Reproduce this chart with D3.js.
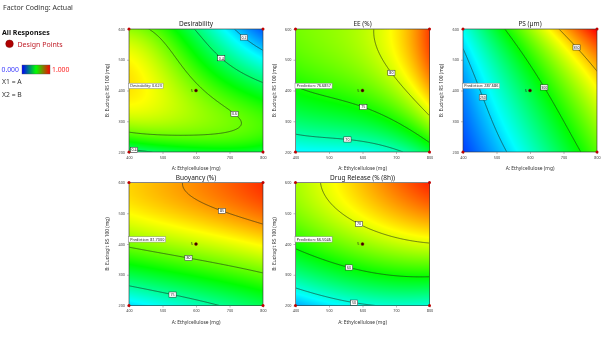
<!DOCTYPE html>
<meta charset="utf-8">
<style>
body { margin: 0; background: #fff; }
#wrap { position: relative; width: 603px; height: 347px; font-family: "Noto Sans", "Open Sans", sans-serif; }
#wrap canvas, #wrap svg { position: absolute; left: 0; top: 0; }
</style>
<body>
<div id="wrap"></div>
<script src="https://d3js.org/d3.v7.min.js"></script>
<script>

// factor settings, actual units
var levelsA = [400, 500, 600, 700, 800];   // A: Ethylcellulose (mg)
var levelsB = [200, 300, 400, 500, 600];   // B: Eudragit RS 100 (mg)

// responses at each A x B setting, one row per B level (200 -> 600)
var desirability = [
  [0.36, 0.42, 0.44, 0.45, 0.44],
  [0.66, 0.67, 0.67, 0.64, 0.55],
  [0.80, 0.72, 0.60, 0.52, 0.45],
  [0.74, 0.66, 0.53, 0.36, 0.27],
  [0.64, 0.55, 0.39, 0.23, 0.08]
];
var entrapment = [
  [67.5, 68.0, 68.2, 68.7, 73.2],
  [71.2, 71.8, 73.8, 75.3, 79.0],
  [74.9, 75.8, 76.5, 78.8, 83.5],
  [76.8, 77.5, 78.5, 81.5, 85.5],
  [77.5, 78.2, 79.3, 82.0, 86.5]
];
var particleSize = [
  [225, 244, 265, 287, 312],
  [231, 252, 276, 300, 325],
  [238, 261, 287, 315, 339],
  [246, 274, 304, 332, 355],
  [258, 295, 322, 352, 385]
];
var buoyancy = [
  [72.5, 73.3, 74.3, 74.7, 76.8],
  [76.0, 77.0, 78.4, 79.0, 79.6],
  [80.6, 81.3, 82.2, 82.7, 83.0],
  [82.8, 83.5, 84.2, 84.9, 85.6],
  [84.0, 84.5, 85.0, 86.3, 87.3]
];
var drugRelease = [
  [44.5, 47.5, 49.5, 50.8, 49.7],
  [53.5, 56.5, 58.8, 59.8, 61.0],
  [61.5, 64.0, 66.5, 68.5, 70.0],
  [65.5, 68.3, 72.5, 74.5, 76.5],
  [67.5, 71.0, 74.5, 78.0, 81.5]
];

var titles = ["Desirability", "EE  (%)", "PS  (\u00b5m)", "Buoyancy  (%)", "Drug Release (% (8h))"];
var modelOrders = [4, 3, 3, 3, 3];
var colorRanges = [[0, 1], [61, 88], [215, 382], [68, 88], [37, 83]];
var contourLevels = [[0.2, 0.4, 0.6], [70, 75, 80], [250, 300, 350], [75, 80, 85], [50, 60, 70]];
// where each contour carries its value tag, [A, B]
var tagSpots = [
  [[743, 573], [678, 508], [416, 217], [718, 328]],
  [[555, 249], [600, 339], [678, 450]],
  [[467, 381], [638, 407], [745, 545]],
  [[532, 241], [577, 350], [683, 526]],
  [[577, 217], [560, 322], [587, 459]]
];
var tagLevels = [[0.2, 0.4, 0.4, 0.6], [70, 75, 80], [250, 300, 350], [75, 80, 85], [50, 60, 70]];
var centerRuns = 5;

var W = 603, H = 347, pw = 134, ph = 123;
var lefts = [129, 295.5, 463, 129, 295.5];
var tops = [29, 29, 29, 182.5, 182.5];
var grids = [desirability, entrapment, particleSize, buoyancy, drugRelease];

var wrap = d3.select("#wrap");
var canvas = wrap.append("canvas").attr("width", W).attr("height", H).node();
var ctx = canvas.getContext("2d");
var svg = wrap.append("svg").attr("width", W).attr("height", H);

// coded factors, -1 .. 1
var codeA = d3.scaleLinear().domain(d3.extent(levelsA)).range([-1, 1]);
var codeB = d3.scaleLinear().domain(d3.extent(levelsB)).range([-1, 1]);

// polynomial terms up to the given total order
function terms(u, v, order) {
  var t = [];
  for (var d = 0; d <= order; d++)
    for (var a = d; a >= 0; a--) t.push(Math.pow(u, a) * Math.pow(v, d - a));
  return t;
}

// least-squares response surface through a grid of responses
function fitSurface(grid, order) {
  var n = (order + 1) * (order + 2) / 2;
  var M = d3.range(n).map(function() { return new Array(n + 1).fill(0); });
  grid.forEach(function(row, j) {
    row.forEach(function(val, i) {
      var t = terms(codeA(levelsA[i]), codeB(levelsB[j]), order);
      for (var a = 0; a < n; a++) {
        for (var b = 0; b < n; b++) M[a][b] += t[a] * t[b];
        M[a][n] += t[a] * val;
      }
    });
  });
  for (var c = 0; c < n; c++) {
    var piv = c;
    for (var r = c + 1; r < n; r++) if (Math.abs(M[r][c]) > Math.abs(M[piv][c])) piv = r;
    var tmp = M[c]; M[c] = M[piv]; M[piv] = tmp;
    for (var r2 = 0; r2 < n; r2++) {
      if (r2 === c) continue;
      var f = M[r2][c] / M[c][c];
      for (var k = c; k <= n; k++) M[r2][k] -= f * M[c][k];
    }
  }
  var coef = M.map(function(row, i) { return row[n] / row[i]; });
  return function(a, b) {
    var t = terms(codeA(a), codeB(b), order), s = 0;
    for (var i = 0; i < n; i++) s += coef[i] * t[i];
    return s;
  };
}
function ramp(t) {
  t = Math.max(0, Math.min(1, t));
  return d3.rgb(d3.hsl(240 * (1 - t), 1, 0.5));
}

// side legend
svg.append("text").attr("x", 3).attr("y", 10).attr("font-size", 7).attr("fill", "#333").text("Factor Coding: Actual");
svg.append("text").attr("x", 2).attr("y", 35).attr("font-size", 7).attr("font-weight", "bold").attr("fill", "#111").text("All Responses");
svg.append("circle").attr("cx", 9.5).attr("cy", 43.8).attr("r", 3.8).attr("fill", "#b00000").attr("stroke", "#700").attr("stroke-width", 0.5);
svg.append("text").attr("x", 17.5).attr("y", 46.5).attr("font-size", 7).attr("fill", "#c0202a").text("Design Points");
var grad = svg.append("defs").append("linearGradient").attr("id", "key");
grad.selectAll("stop").data(["#0000ff", "#00ff00", "#ff0000"]).join("stop")
  .attr("offset", function(d, i) { return i / 2; }).attr("stop-color", function(d) { return d; });
svg.append("rect").attr("x", 22).attr("y", 65).attr("width", 28).attr("height", 9)
  .attr("fill", "url(#key)").attr("stroke", "#555").attr("stroke-width", 0.4);
svg.append("text").attr("x", 1.5).attr("y", 72).attr("font-size", 6.8).attr("fill", "#3a3aff").text("0.000");
svg.append("text").attr("x", 52).attr("y", 72).attr("font-size", 6.8).attr("fill", "#ff2020").text("1.000");
svg.append("text").attr("x", 2).attr("y", 84).attr("font-size", 6.8).attr("fill", "#333").text("X1 = A");
svg.append("text").attr("x", 2).attr("y", 97).attr("font-size", 6.8).attr("fill", "#333").text("X2 = B");

grids.forEach(function(grid, p) {
  var surface = fitSurface(grid, modelOrders[p]);
  var x0 = lefts[p], y0 = tops[p];
  var x = d3.scaleLinear().domain(d3.extent(levelsA)).range([x0, x0 + pw]);
  var y = d3.scaleLinear().domain(d3.extent(levelsB)).range([y0 + ph, y0]);
  var color = d3.scaleLinear().domain(colorRanges[p]).range([0, 1]);

  // shaded surface
  var img = ctx.createImageData(pw, ph);
  for (var r = 0; r < ph; r++) {
    for (var c = 0; c < pw; c++) {
      var v = surface(x.invert(x0 + c + 0.5), y.invert(y0 + r + 0.5));
      var col = ramp(color(v)), k = (r * pw + c) * 4;
      img.data[k] = col.r; img.data[k + 1] = col.g; img.data[k + 2] = col.b; img.data[k + 3] = 255;
    }
  }
  ctx.putImageData(img, Math.round(x0), Math.round(y0));

  var g = svg.append("g");
  var clipId = "clip" + p;
  g.append("clipPath").attr("id", clipId).append("rect")
    .attr("x", x0 + 0.4).attr("y", y0 + 0.4).attr("width", pw - 0.8).attr("height", ph - 0.8);

  // contour lines on a fine grid
  var nx = 161, ny = 161, vals = new Array(nx * ny);
  var stepA = (x.domain()[1] - x.domain()[0]) / (nx - 1), stepB = (y.domain()[1] - y.domain()[0]) / (ny - 1);
  for (var j = 0; j < ny; j++)
    for (var i = 0; i < nx; i++)
      vals[j * nx + i] = surface(x.domain()[0] + i * stepA, y.domain()[1] - j * stepB);
  var toPx = function(gx, gy) {
    return [x(x.domain()[0] + (gx - 0.5) * stepA), y(y.domain()[1] - (gy - 0.5) * stepB)];
  };
  var proj = d3.geoTransform({ point: function(gx, gy) { var q = toPx(gx, gy); this.stream.point(q[0], q[1]); } });
  var shapes = d3.contours().size([nx, ny]).thresholds(contourLevels[p])(vals);
  g.append("g").attr("clip-path", "url(#" + clipId + ")")
    .selectAll("path").data(shapes).join("path")
    .attr("d", d3.geoPath(proj))
    .attr("fill", "none").attr("stroke", "#1c2a1c").attr("stroke-width", 0.6);

  // frame
  g.append("rect").attr("x", x0).attr("y", y0).attr("width", pw).attr("height", ph)
    .attr("fill", "none").attr("stroke", "#333").attr("stroke-width", 0.6);

  // axes
  var ax = g.append("g").attr("transform", "translate(0," + (y0 + ph) + ")")
    .call(d3.axisBottom(x).tickValues(levelsA).tickSize(2).tickPadding(2));
  var ay = g.append("g").attr("transform", "translate(" + x0 + ",0)")
    .call(d3.axisLeft(y).tickValues(levelsB).tickSize(2).tickPadding(2));
  [ax, ay].forEach(function(a) {
    a.select(".domain").remove();
    a.selectAll("line").attr("stroke", "#777").attr("stroke-width", 0.5);
    a.selectAll("text").attr("font-size", 3.8).attr("fill", "#444").attr("font-family", "Noto Sans, sans-serif");
  });

  g.append("text").attr("x", x0 + pw / 2).attr("y", y0 - 3).attr("text-anchor", "middle")
    .attr("font-size", 6.5).attr("fill", "#222").text(titles[p]);
  g.append("text").attr("x", x0 + pw / 2).attr("y", y0 + ph + 18).attr("text-anchor", "middle")
    .attr("font-size", 4.9).attr("fill", "#333").text("A: Ethylcellulose (mg)");
  g.append("text").attr("transform", "translate(" + (x0 - 20) + "," + (y0 + ph / 2) + ") rotate(-90)")
    .attr("text-anchor", "middle").attr("font-size", 4.9).attr("fill", "#333").text("B: Eudragit RS 100 (mg)");

  // contour value tags, snapped onto their line
  var fmtTag = p === 0 ? d3.format(".1f") : d3.format("d");
  tagSpots[p].forEach(function(spot, t) {
    var lvl = tagLevels[p][t], target = [x(spot[0]), y(spot[1])], best = null, bd = Infinity;
    shapes.filter(function(s) { return s.value === lvl; }).forEach(function(s) {
      s.coordinates.forEach(function(poly) { poly.forEach(function(ring) { ring.forEach(function(pt) {
        var q = toPx(pt[0], pt[1]);
        if (q[0] < x0 + 1 || q[0] > x0 + pw - 1 || q[1] < y0 + 1 || q[1] > y0 + ph - 1) return;
        var d = (q[0] - target[0]) * (q[0] - target[0]) + (q[1] - target[1]) * (q[1] - target[1]);
        if (d < bd) { bd = d; best = q; }
      }); }); });
    });
    if (!best) return;
    g.append("rect").attr("x", best[0] - 3.6).attr("y", best[1] - 2.6).attr("width", 7.2).attr("height", 5.2)
      .attr("fill", "#fff").attr("stroke", "#222").attr("stroke-width", 0.5);
    g.append("text").attr("x", best[0]).attr("y", best[1] + 1.3).attr("text-anchor", "middle")
      .attr("font-size", 3.6).attr("fill", "#222").text(fmtTag(lvl));
  });

  // design points
  var corners = [[levelsA[0], levelsB[0]], [levelsA[4], levelsB[0]], [levelsA[0], levelsB[4]], [levelsA[4], levelsB[4]]];
  g.selectAll(".pt").data(corners).join("circle")
    .attr("cx", function(d) { return x(d[0]); }).attr("cy", function(d) { return y(d[1]); })
    .attr("r", 1.5).attr("fill", "#c00000");
  g.append("circle").attr("cx", x(levelsA[2])).attr("cy", y(levelsB[2])).attr("r", 1.5)
    .attr("fill", "#300").attr("stroke", "#900").attr("stroke-width", 0.4);
  g.append("text").attr("x", x(levelsA[2]) - 3).attr("y", y(levelsB[2]) + 1.3).attr("text-anchor", "end")
    .attr("font-size", 3.8).attr("fill", "#222").text(centerRuns);

  // prediction flag at the centre setting
  var pred = surface(levelsA[2], levelsB[2]);
  var label = p === 0 ? "Desirability: " + d3.format(".3f")(pred) : "Prediction: " + d3.format(".6r")(pred);
  var fy = y(levelsB[2]) - 4.5;
  var flag = g.append("g");
  var box = flag.append("rect").attr("y", fy - 2.8).attr("height", 5.4)
    .attr("fill", "#fff").attr("stroke", "#888").attr("stroke-width", 0.5);
  var txt = flag.append("text").attr("x", x0 + 1.2).attr("y", fy + 1.3)
    .attr("font-size", 3.8).attr("fill", "#222").text(label);
  var tw = txt.node().getComputedTextLength();
  box.attr("x", x0 - 0.5).attr("width", tw + 3);
});

</script>
</body>
